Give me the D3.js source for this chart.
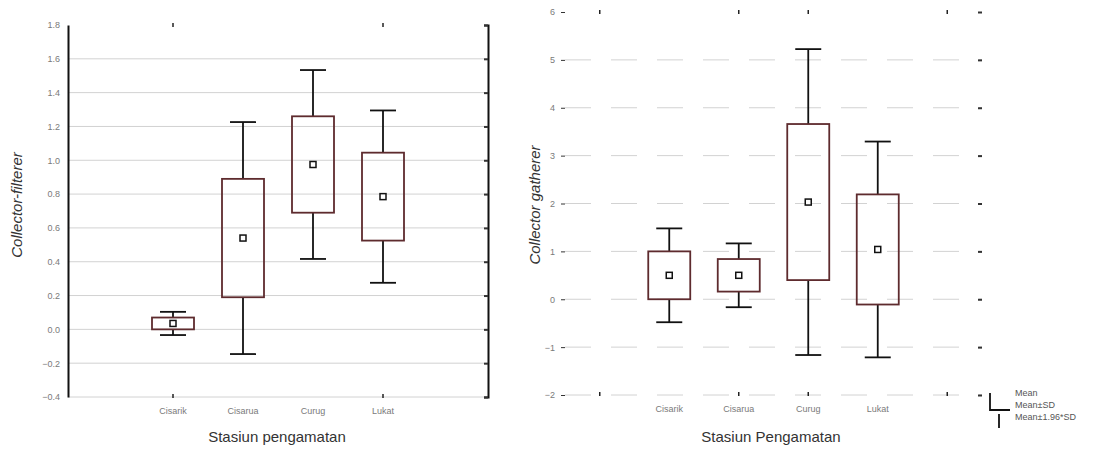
<!DOCTYPE html>
<html>
<head>
<meta charset="utf-8">
<script src="https://cdn.jsdelivr.net/npm/d3@7"></script>
<style>
  body { margin: 0; background: #fff; }
  svg { display: block; font-family: "Liberation Sans", Arial, sans-serif; }
</style>
</head>
<body>
<svg id="chart" width="1102" height="449"></svg>
<script>
const stations = ['Cisarik', 'Cisarua', 'Curug', 'Lukat'];
const slots = ['pad0', ...stations, 'pad1'];

// Collector-filterer: mean and SD per station
const filtererMean = [0.035, 0.54, 0.975, 0.785];
const filtererSD = [0.035, 0.35, 0.285, 0.26];
const filtererTicks = [-0.4, -0.2, 0, 0.2, 0.4, 0.6, 0.8, 1.0, 1.2, 1.4, 1.6, 1.8];

// Collector gatherer: mean and SD per station
const gathererMean = [0.5, 0.5, 2.03, 1.04];
const gathererSD = [0.5, 0.34, 1.63, 1.15];
const gathererTicks = [-2, -1, 0, 1, 2, 3, 4, 5, 6];

const legendLabels = ['Mean', 'Mean±SD', 'Mean±1.96*SD'];

const svg = d3.select('#chart');
const boxColor = '#5e2b2e';

function drawPanel(opts) {
  const g = svg.append('g');
  const x = d3.scaleBand().domain(slots).range(opts.xRange);
  const y = d3.scaleLinear().domain(opts.yDomain).range(opts.yRange);
  const [x0, x1] = opts.xRange;

  // grid (no line on the top edge)
  g.append('g').selectAll('line').data(opts.ticks.slice(0, -1)).join('line')
    .attr('x1', x0).attr('x2', x1)
    .attr('y1', (d) => y(d)).attr('y2', (d) => y(d))
    .attr('stroke', '#d2d2d2').attr('stroke-width', 1)
    .attr('stroke-dasharray', opts.dash || null);

  // left tick labels
  const axisL = g.append('g')
    .attr('transform', `translate(${x0},0)`)
    .call(d3.axisLeft(y).tickValues(opts.ticks).tickFormat(opts.fmt)
      .tickSize(opts.leftTick).tickPadding(opts.leftPad));
  axisL.select('.domain').attr('stroke', opts.leftLine ? '#111' : 'none').attr('stroke-width', 2);
  axisL.selectAll('.tick line').attr('stroke', '#333');
  axisL.selectAll('.tick text').attr('fill', '#7a7a7a').style('font-size', '9px');

  // right axis (ticks inward)
  const axisR = g.append('g')
    .attr('transform', `translate(${x1},0)`)
    .call(d3.axisLeft(y).tickValues(opts.ticks).tickFormat('').tickSize(4));
  axisR.select('.domain').attr('stroke', opts.rightLine ? '#111' : 'none').attr('stroke-width', 2);
  axisR.selectAll('.tick line').attr('stroke', '#333').attr('stroke-width', 2);

  // top and bottom ticks at slot centres
  const cx = (d) => x(d) + x.bandwidth() / 2;
  const topY = y(opts.yDomain[1]);
  const botY = y(opts.yDomain[0]);
  g.append('g').selectAll('line').data(opts.markedSlots).join('line')
    .attr('x1', cx).attr('x2', cx)
    .attr('y1', topY - 2).attr('y2', topY + 2)
    .attr('stroke', '#222').attr('stroke-width', 1.5);
  g.append('g').selectAll('line').data(opts.markedSlots).join('line')
    .attr('x1', cx).attr('x2', cx)
    .attr('y1', botY - 3).attr('y2', botY + 1)
    .attr('stroke', '#222').attr('stroke-width', 1.5);

  // category labels
  g.append('g').selectAll('text').data(stations).join('text')
    .attr('x', cx).attr('y', opts.labelY)
    .attr('text-anchor', 'middle')
    .attr('fill', '#7a7a7a').style('font-size', '9px')
    .text((d) => d);

  const rows = stations.map((s, i) => ({ s, m: opts.mean[i], sd: opts.sd[i] }));
  const boxW = 42;
  const capW = 26;

  // whiskers (mean ± 1.96 SD)
  const wg = g.append('g').attr('stroke', '#111').attr('stroke-width', 1.8);
  rows.forEach((r) => {
    const c = cx(r.s);
    const hi = r.m + 1.96 * r.sd;
    const lo = r.m - 1.96 * r.sd;
    wg.append('line').attr('x1', c).attr('x2', c).attr('y1', y(hi)).attr('y2', y(r.m + r.sd));
    wg.append('line').attr('x1', c).attr('x2', c).attr('y1', y(r.m - r.sd)).attr('y2', y(lo));
    wg.append('line').attr('x1', c - capW / 2).attr('x2', c + capW / 2).attr('y1', y(hi)).attr('y2', y(hi));
    wg.append('line').attr('x1', c - capW / 2).attr('x2', c + capW / 2).attr('y1', y(lo)).attr('y2', y(lo));
  });

  // boxes (mean ± SD)
  g.append('g').selectAll('rect').data(rows).join('rect')
    .attr('x', (r) => cx(r.s) - boxW / 2)
    .attr('width', boxW)
    .attr('y', (r) => y(r.m + r.sd))
    .attr('height', (r) => y(r.m - r.sd) - y(r.m + r.sd))
    .attr('fill', 'none').attr('stroke', boxColor).attr('stroke-width', 1.8);

  // mean markers
  g.append('g').selectAll('rect').data(rows).join('rect')
    .attr('x', (r) => cx(r.s) - 3)
    .attr('y', (r) => y(r.m) - 3)
    .attr('width', 6).attr('height', 6)
    .attr('fill', '#fff').attr('stroke', '#111').attr('stroke-width', 1.5);

  // axis titles
  svg.append('text')
    .attr('transform', `translate(${opts.yTitleX},${opts.yTitleY}) rotate(-90)`)
    .attr('text-anchor', 'middle')
    .attr('fill', '#333').style('font-size', '15px').style('font-style', 'italic')
    .text(opts.yTitle);
  svg.append('text')
    .attr('x', opts.xTitleX).attr('y', 442)
    .attr('text-anchor', 'middle')
    .attr('fill', '#333').style('font-size', '15px')
    .text(opts.xTitle);
}

drawPanel({
  xRange: [68, 488],
  yDomain: [-0.4, 1.8],
  yRange: [397, 25],
  ticks: filtererTicks,
  fmt: d3.format('.1f'),
  mean: filtererMean,
  sd: filtererSD,
  leftLine: true,
  rightLine: true,
  leftTick: 0,
  leftPad: 8,
  markedSlots: ['Cisarik', 'Lukat'],
  labelY: 414,
  yTitle: 'Collector-filterer',
  yTitleX: 22,
  yTitleY: 205,
  xTitle: 'Stasiun pengamatan',
  xTitleX: 277,
});

drawPanel({
  xRange: [565, 982],
  yDomain: [-2, 6],
  yRange: [395, 12],
  ticks: gathererTicks,
  fmt: d3.format('d'),
  mean: gathererMean,
  sd: gathererSD,
  leftLine: false,
  rightLine: false,
  leftTick: 4,
  leftPad: 6,
  dash: '26 20',
  markedSlots: ['pad0', 'Cisarua', 'Curug', 'pad1'],
  labelY: 412,
  yTitle: 'Collector gatherer',
  yTitleX: 540,
  yTitleY: 205,
  xTitle: 'Stasiun Pengamatan',
  xTitleX: 771,
});

// legend
const lg = svg.append('g').attr('stroke', '#111').attr('stroke-width', 1.8);
lg.append('path').attr('d', 'M990,393 V410 H1010').attr('fill', 'none');
lg.append('line').attr('x1', 999).attr('x2', 999).attr('y1', 414).attr('y2', 428);
svg.append('g').selectAll('text').data(legendLabels).join('text')
  .attr('x', 1015)
  .attr('y', (d, i) => 396 + i * 12)
  .attr('fill', '#555').style('font-size', '9px')
  .text((d) => d);
</script>
</body>
</html>
